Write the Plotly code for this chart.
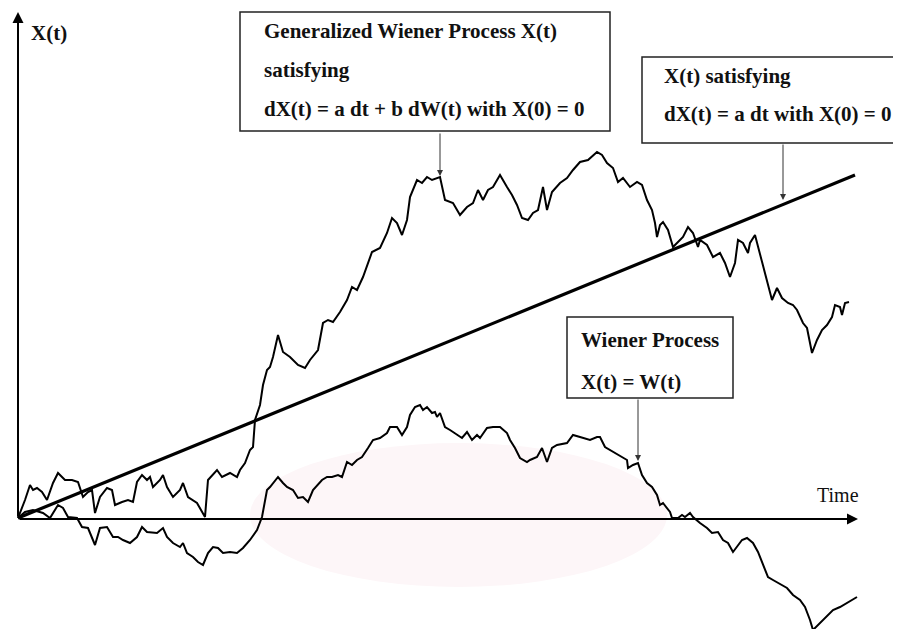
import plotly.graph_objects as go

# ---- data (time in arbitrary steps, X(t) in arbitrary units) ----
drift_t = [0, 837]
drift_x = [0, 343]

gen_t = [0, 7, 12, 15, 19, 24, 29, 35, 40, 47, 54, 60, 65, 70, 74, 77, 82, 89, 94, 97, 104,
         110, 115, 119, 124, 129, 132, 135, 142, 145, 149, 155, 162, 165, 170, 179, 187, 190,
         199, 204, 212, 219, 222, 227, 232, 235, 237, 242, 245, 249, 252, 255, 260, 265, 272,
         280, 287, 292, 300, 305, 310, 315, 322, 329, 334, 339, 345, 350, 354, 362, 369, 374,
         379, 384, 389, 392, 399, 404, 409, 414, 419, 422, 427, 435, 442, 449, 455, 460, 465,
         470, 475, 482, 489, 494, 499, 504, 510, 515, 520, 525, 529, 534, 542, 549, 555, 562,
         570, 579, 584, 589, 595, 600, 605, 612, 619, 624, 629, 634, 637, 639, 642, 645, 650,
         655, 660, 665, 670, 675, 680, 682, 689, 695, 702, 707, 712, 717, 720, 725, 730, 732,
         737, 740, 745, 750, 754, 759, 764, 770, 775, 779, 785, 789, 794, 799, 804, 809, 814,
         817, 822, 824, 827, 831]
gen_x = [0, 18, 33, 28, 30, 26, 18, 35, 45, 38, 38, 36, 21, 26, 28, 5, 21, 30, 28, 13, 16,
         18, 16, 36, 43, 38, 41, 31, 38, 43, 31, 21, 28, 35, 21, 15, 1, 38,
         48, 41, 45, 41, 48, 55, 68, 71, 98, 113, 133, 148, 151, 161, 183, 166, 161,
         153, 150, 158, 168, 195, 198, 196, 206, 218, 231, 228, 241, 255, 266, 270, 285, 300,
         295, 283, 298, 321, 338, 335, 341, 338, 340, 341, 318, 315, 303, 311, 315, 328, 318,
         328, 331, 343, 331, 323, 313, 300, 298, 305, 308, 331, 308, 326, 335, 340, 348, 356,
         358, 366, 363, 355, 350, 336, 340, 331, 336, 333, 318, 308, 295, 281, 293, 296, 288,
         271, 276, 281, 291, 285, 271, 278, 273, 261, 265, 255, 241, 255, 278, 275, 265, 275,
         283, 271, 251, 231, 218, 230, 220, 215, 213, 208, 195, 190, 165, 178, 188, 193, 201,
         213, 211, 203, 215, 216]

wien_t = [0, 7, 15, 25, 32, 37, 40, 45, 50, 59, 64, 70, 77, 82, 89, 95, 100, 105, 112, 119,
          124, 129, 139, 145, 149, 155, 162, 165, 169, 175, 180, 185, 190, 195, 200, 205, 212,
          219, 225, 232, 239, 244, 249, 252, 255, 260, 265, 269, 275, 280, 285, 290, 295, 304,
          309, 314, 320, 324, 329, 334, 339, 344, 350, 355, 362, 369, 372, 379, 384, 389, 392,
          397, 402, 405, 409, 414, 417, 419, 422, 427, 432, 439, 444, 449, 454, 459, 462, 469,
          475, 482, 489, 492, 497, 502, 509, 512, 519, 524, 529, 534, 539, 549, 555, 562, 572,
          579, 582, 587, 592, 595, 600, 609, 610, 615, 620, 624, 629, 634, 639, 642, 645, 652,
          654, 660, 664, 667, 672, 675, 682, 689, 694, 700, 705, 710, 715, 719, 724, 729, 735,
          740, 745, 750, 755, 760, 769, 775, 782, 787, 792, 795, 802, 809, 815, 822, 829, 835,
          839]
wien_x = [0, 6, 8, 5, 0, 8, 13, 10, 1, 0, -9, -10, -27, -10, -9, -19, -19, -22, -25, -19,
          -9, -14, -15, -10, -19, -25, -29, -25, -35, -39, -44, -47, -35, -29, -30, -35, -34,
          -35, -30, -22, -12, 1, 28, 31, 35, 41, 35, 31, 28, 20, 21, 16, 28, 38,
          41, 41, 43, 41, 56, 53, 58, 61, 70, 78, 80, 85, 91, 91, 83, 91, 103,
          111, 113, 108, 111, 105, 106, 101, 105, 91, 88, 83, 80, 86, 78, 83, 80, 90,
          91, 91, 85, 78, 70, 60, 56, 58, 61, 70, 56, 70, 73, 75, 83, 81, 78,
          81, 81, 71, 68, 66, 63, 58, 50, 53, 55, 43, 35, 31, 23, 13, 15, 6,
          0, 0, 3, 1, 5, 1, -5, -10, -15, -14, -22, -25, -34, -29, -22, -20, -25,
          -34, -47, -59, -62, -65, -70, -77, -82, -89, -102, -112, -105, -97, -92, -89, -85, -82,
          -79]

y_label = "X(t)"
x_label = "Time"
gen_lines = ["Generalized Wiener Process X(t)", "satisfying",
             "dX(t) = a dt + b dW(t) with X(0) = 0"]
drift_lines = ["X(t) satisfying", "dX(t) = a dt with X(0) = 0"]
wien_lines = ["Wiener Process", "X(t) = W(t)"]

SERIF = "Liberation Serif, Times New Roman, serif"

fig = go.Figure()
fig.add_trace(go.Scatter(x=drift_t, y=drift_x, mode="lines",
                         line=dict(color="black", width=3.2), hoverinfo="skip"))
fig.add_trace(go.Scatter(x=gen_t, y=gen_x, mode="lines",
                         line=dict(color="black", width=2), hoverinfo="skip"))
fig.add_trace(go.Scatter(x=wien_t, y=wien_x, mode="lines",
                         line=dict(color="black", width=2), hoverinfo="skip"))

shapes = [
    # faint watermark tint
    dict(type="circle", xref="x", yref="y", x0=232, x1=649, y0=-69, y1=75,
         line=dict(width=0), fillcolor="#fdf6f8", layer="below"),
    dict(type="rect", xref="x", yref="y", x0=222, x1=592, y0=387, y1=506,
         line=dict(color="#222", width=1.5), fillcolor="white", layer="above"),
    dict(type="rect", xref="x", yref="y", x0=624, x1=879, y0=375, y1=461,
         line=dict(color="#222", width=1.5), fillcolor="white", layer="above"),
    dict(type="rect", xref="x", yref="y", x0=549, x1=715, y0=120, y1=201,
         line=dict(color="#222", width=1.5), fillcolor="white", layer="above"),
]

annotations = []
# axes arrows
annotations.append(dict(x=0, y=506, ax=0, ay=0, xref="x", yref="y", axref="x", ayref="y",
                        showarrow=True, arrowhead=2, arrowsize=1.1, arrowwidth=2,
                        arrowcolor="black", text=""))
annotations.append(dict(x=840, y=-1, ax=0, ay=-1, xref="x", yref="y", axref="x", ayref="y",
                        showarrow=True, arrowhead=2, arrowsize=1.1, arrowwidth=2,
                        arrowcolor="black", text=""))
# pointer arrows
for tip, tail in [((422, 342), (422, 386)), ((765, 318), (765, 375)), ((620, 57), (620, 120))]:
    annotations.append(dict(x=tip[0], y=tip[1], ax=tail[0], ay=tail[1], xref="x", yref="y",
                            axref="x", ayref="y", showarrow=True, arrowhead=2,
                            arrowsize=1.2, arrowwidth=1, arrowcolor="#333", text=""))

def txt(s, x, y, bold=True, size=21):
    return dict(x=x, y=y, xref="x", yref="y", text=s, showarrow=False,
                xanchor="left", yanchor="middle",
                font=dict(family=SERIF, size=size, color="#111",
                          weight="bold" if bold else "normal"))

annotations.append(txt(y_label, 11, 485))
annotations.append(txt(x_label, 797, 23, bold=False, size=20))
for s, yy in zip(gen_lines, [487, 448, 409]):
    annotations.append(txt(s, 244, yy))
for s, yy in zip(drift_lines, [442, 404]):
    annotations.append(txt(s, 644, yy))
for s, yy in zip(wien_lines, [178, 136]):
    annotations.append(txt(s, 561, yy))

# the page body adds an 8px margin, so the figure is sized to the remaining area
fig.update_layout(
    width=893, height=621,
    margin=dict(l=0, r=0, t=0, b=0),
    paper_bgcolor="white", plot_bgcolor="white",
    showlegend=False,
    xaxis=dict(range=[-10, 883], visible=False, fixedrange=True),
    yaxis=dict(range=[-111, 510], visible=False, fixedrange=True),
    shapes=shapes, annotations=annotations,
)

fig.write_html("out.html", config={"displayModeBar": False})
